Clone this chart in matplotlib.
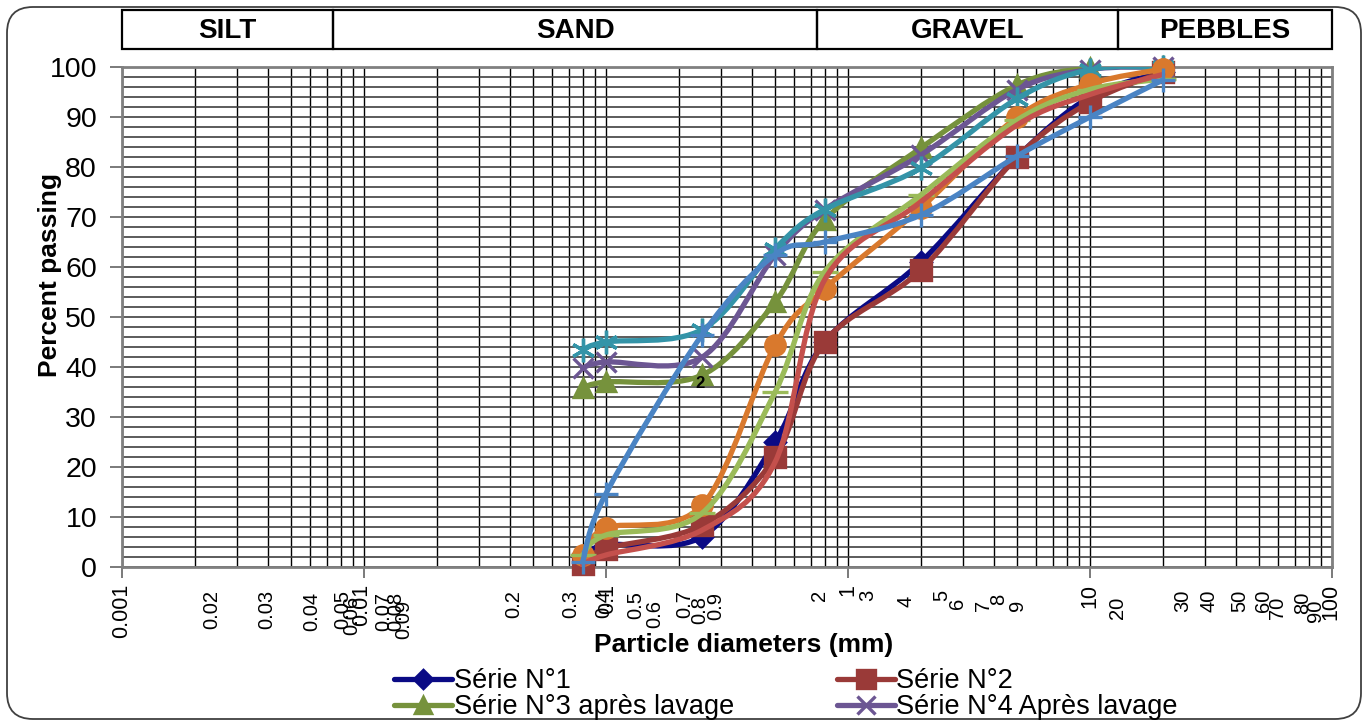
import numpy as np
import matplotlib
matplotlib.use('Agg')
import matplotlib.pyplot as plt
from matplotlib import font_manager
from matplotlib.path import Path
from matplotlib.patches import PathPatch, Rectangle, FancyBboxPatch
from matplotlib.lines import Line2D
from matplotlib.ticker import LogLocator, MultipleLocator, NullFormatter
import matplotlib.transforms as mtransforms

plt.rcParams['font.family'] = ['Liberation Sans', 'DejaVu Sans']
installed = {f.name for f in font_manager.fontManager.ttflist}
narrow = 'Liberation Sans Narrow' in installed

# sieve sizes (mm)
sieve = [0.08, 0.1, 0.25, 0.5, 0.8, 2, 5, 10, 20]

serie1 = [2, 4.4, 6.1, 25, 45, 61, 82, 94, 99]
serie2 = [0.7, 3.7, 8.4, 22, 45, 59.4, 82, 93, 99]
serie3 = [35.8, 37, 38.4, 53, 69.4, 83.8, 96.4, 99.8, 100]
serie4 = [39.8, 41, 42, 62.4, 71.5, 82.4, 95.5, 99.5, 100]
serie5 = [43.4, 45, 47.5, 63.7, 71.5, 79.8, 93.7, 99.5, 100]
serie6 = [2.4, 7.8, 12.4, 44.4, 55.6, 71.8, 90, 96.6, 99.6]
serie7 = [2.4, 6.4, 10.8, 35, 59, 74.4, 89.4, 95.5, 97.6]
serie8 = [0.5, 2.4, 7.4, 21, 57.4, 73, 88.4, 94.5, 98.5]
serie9 = [1, 14.7, 46.5, 62.5, 65, 70.4, 82.2, 90, 97.4]

legend_names = ['Série N°1', 'Série N°2', 'Série N°3 après lavage', 'Série N°4 Après lavage']
zones = ['SILT', 'SAND', 'GRAVEL', 'PEBBLES']

# x tick texts as they sit on the original sheet
xlab = ['0.001', '0.02', '0.03', '0.04', '0.05', '0.06', '0.01', '0.07', '0.08', '0.09',
        '0.2', '0.3', '0.4', '0.1', '0.5', '0.6', '0.7', '0.8', '0.9',
        '2', '1', '3', '4', '5', '6', '7', '8', '9',
        '10', '20', '30', '40', '50', '60', '70', '80', '90', '100']

# layout (pixels)
xlab_px = [122, 212, 267, 312, 343, 352, 362, 384, 396, 404,
           514, 571, 604, 608, 636, 655, 685, 700, 716,
           819, 848, 868, 906, 942, 957, 984, 999, 1017,
           1090, 1118, 1183, 1209, 1240, 1263, 1277, 1303, 1316, 1331]
xlab_top = [584, 590, 590, 592, 590, 596, 584, 592, 592, 600,
            590, 590, 590, 584, 591, 600, 590, 596, 592,
            590, 584, 590, 596, 590, 598, 600, 594, 600,
            584, 597, 590, 590, 590, 590, 597, 592, 600, 584]
decades = ['0.001', '0.01', '0.1', '1', '10', '100']
zone_edges = [122, 333, 817, 1118, 1332]

W, H = 1368, 720
L, R, T, B = 122, 1332, 67, 567

fig = plt.figure(figsize=(W / 100, H / 100), dpi=100)
ax = fig.add_axes([L / W, 1 - B / H, (R - L) / W, (B - T) / H])
ax.set_xscale('log')
ax.set_xlim(0.001, 100)
ax.set_ylim(0, 100)


def smooth_path(x, y, k=1.0 / 6):
    u = np.log10(np.array(x, float))
    v = np.array(y, float)
    n = len(u)
    verts = [(u[0], v[0])]
    codes = [Path.MOVETO]
    for i in range(n - 1):
        p0 = i - 1 if i > 0 else i
        p3 = i + 2 if i + 2 < n else i + 1
        c1 = (u[i] + (u[i + 1] - u[p0]) * k, v[i] + (v[i + 1] - v[p0]) * k)
        c2 = (u[i + 1] - (u[p3] - u[i]) * k, v[i + 1] - (v[p3] - v[i]) * k)
        verts += [c1, c2, (u[i + 1], v[i + 1])]
        codes += [Path.CURVE4] * 3
    verts = [(10 ** a, b) for a, b in verts]
    return Path(verts, codes)


lw = 3.8
series = [
    (serie1, '#0a0a85', 'D', 10),
    (serie2, '#9a3a38', 's', 14),
    (serie3, '#76923c', '^', 13),
    (serie4, '#6c5693', 'x', 14),
    (serie5, '#3494a8', (6, 2, 0), 17),
    (serie6, '#d9792d', 'o', 14),
    (serie7, '#9bbb59', '_', 19),
    (serie8, '#c4504c', None, 0),
    (serie9, '#4a84c4', '+', 17),
]

handles = []
for z, (vals, col, mk, ms) in enumerate(series):
    ax.add_patch(PathPatch(smooth_path(sieve, vals), fill=False, edgecolor=col,
                           lw=lw, capstyle='round', joinstyle='round', zorder=3 + z))
    if mk is not None:
        ax.plot(sieve, vals, ls='none', marker=mk, ms=ms, color=col, mfc=col,
                mec=col, mew=2.4, zorder=3 + z, clip_on=False)
    handles.append(Line2D([], [], color=col, lw=lw, marker=mk, ms=ms * 0.9,
                          mew=2.4, solid_capstyle='round'))

ax.text(0.245, 36.6, '2', fontsize=12, fontweight='bold', ha='center', va='center', zorder=20)

# grid
ax.xaxis.set_minor_locator(LogLocator(base=10, subs=np.arange(2, 10)))
ax.xaxis.set_minor_formatter(NullFormatter())
ax.set_xticks([0.001, 0.01, 0.1, 1, 10, 100])
ax.set_xticklabels([])
ax.yaxis.set_minor_locator(MultipleLocator(2))
ax.set_yticks(np.arange(0, 101, 10))
ax.grid(which='both', axis='y', color='#404040', lw=1.2, zorder=1)
ax.grid(which='both', axis='x', color='black', lw=1.0, zorder=1)
ax.tick_params(axis='y', which='major', length=9, width=1.3, color='#707070',
               labelsize=20.5, pad=9)
ax.tick_params(axis='x', which='major', length=8, width=1.3, color='#707070')
ax.tick_params(which='minor', length=0)
for s in ax.spines.values():
    s.set_color('#808080')
    s.set_linewidth(2)

# x tick texts
tr = mtransforms.blended_transform_factory(ax.transAxes, fig.transFigure)
for lab, px, top in zip(xlab, xlab_px, xlab_top):
    fs = 15.5 if lab in decades else 14.5
    ax.text((px - L) / (R - L), 1 - top / H, lab, rotation=90, ha='center', va='top',
            fontsize=fs, transform=tr, clip_on=False)

fig.text(744 / W, 1 - 645 / H, 'Particle diameters (mm)', ha='center', va='center',
         fontsize=19, fontweight='bold')
fig.text(50 / W, 1 - 275 / H, 'Percent passing', ha='center', va='center',
         rotation=90, fontsize=19, fontweight='bold')

# zone header
hax = fig.add_axes([L / W, 1 - 49 / H, (R - L) / W, 39 / H])
hax.set_xlim(L, R)
hax.set_ylim(0, 1)
hax.axis('off')
for i, name in enumerate(zones):
    a, b = zone_edges[i], zone_edges[i + 1]
    hax.add_patch(Rectangle((a, 0), b - a, 1, fill=False, ec='black', lw=1.6, clip_on=False))
    hax.text((a + b) / 2, 0.45, name, ha='center', va='center', fontsize=20,
             fontweight='bold')

# legend filled row by row like the sheet
order = [0, 2, 1, 3]
if narrow:
    leg_font = {'family': ['Liberation Sans Narrow', 'Liberation Sans'], 'size': 20.5}
    colsp = 2.6
else:
    leg_font = {'family': ['Liberation Sans', 'DejaVu Sans'], 'size': 19.5}
    colsp = 3.8
fig.legend([handles[i] for i in order], [legend_names[i] for i in order], ncol=2,
           loc='upper left', bbox_to_anchor=(394 / W, 1 - 668 / H), frameon=False,
           prop=leg_font, handlelength=2.15, handletextpad=0.05, columnspacing=colsp,
           labelspacing=0.0, borderpad=0, borderaxespad=0)

frame = FancyBboxPatch((7, 1), 1354, 712, boxstyle='round,pad=0,rounding_size=26',
                       transform=mtransforms.IdentityTransform(), fill=False,
                       ec='#404040', lw=1.3)
fig.patches.append(frame)

fig.savefig('out.png', dpi=100)
